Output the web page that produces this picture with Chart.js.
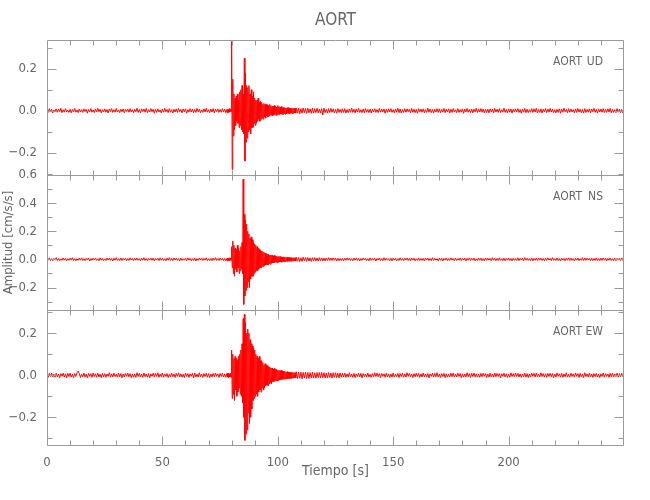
<!DOCTYPE html>
<html lang="es">
<head>
<meta charset="UTF-8">
<title>AORT</title>
<script src="https://cdn.jsdelivr.net/npm/chart.js"></script>
<style>
  body { margin: 0; background: #fff; }
  canvas { display: block; }
</style>
</head>
<body>
<canvas id="seis" width="650" height="500"></canvas>
<script>
const station = 'AORT';
const components = ['UD', 'NS', 'EW'];

// sampling: pre-event 0-77.5 s every 0.5 s, strong motion 78-107.75 s every 0.25 s, coda 108-250 s every 0.5 s
const preStart = 0, preStep = 0.5;
const burstStart = 78, burstStep = 0.25;
const postStart = 108, postStep = 0.5;

// --- UD [cm/s/s]
const udPre = [
  .006,-.008,.01,-.005,.007,-.011,.004,-.006,.009,-.007,
  .008,-.004,.012,-.009,.005,-.007,.01,-.006,.003,-.008,
  .007,-.01,.006,-.005,.011,-.007,.004,-.009,.008,-.006,
  .005,-.008,.009,-.004,.007,-.012,.006,-.005,.01,-.007,
  .004,-.009,.008,-.006,.012,-.005,.007,-.01,.005,-.006,
  .009,-.007,.006,-.011,.008,-.004,.01,-.008,.005,-.007,
  .011,-.006,.004,-.009,.007,-.005,.009,-.01,.006,-.004,
  .008,-.007,.01,-.006,.005,-.009,.007,-.005,.012,-.008,
  .006,-.011,.009,-.004,.008,-.007,.011,-.009,.005,-.006,
  .01,-.005,.007,-.012,.006,-.008,.009,-.006,.004,-.01,
  .008,-.007,.012,-.005,.006,-.009,.01,-.007,.005,-.011,
  .007,-.006,.009,-.008,.011,-.004,.006,-.01,.008,-.005,
  .009,-.012,.005,-.007,.01,-.006,.008,-.009,.006,-.008,
  .011,-.005,.007,-.01,.004,-.008,.009,-.006,.012,-.007,
  .005,-.009,.008,-.006,.01,-.011,.007,-.004,.009,-.008,
  .006,-.007,.01,-.005,.008,-.009
];
const udBurst = [
  .007,-.009,.005,-.008,.01,-.006,.008,-.005,
  .33,-.28,.15,-.12,.08,-.09,.06,-.07,
  .07,-.05,.08,-.06,.05,-.08,.09,-.07,
  .1,-.09,.12,-.1,.08,-.11,
  .25,-.24,.18,-.15,.12,-.13,
  .11,-.1,.12,-.09,.08,-.11,.1,-.08,
  .07,-.08,.09,-.06,.06,-.07,.05,-.06,
  .05,-.05,.06,-.04,.04,-.05,.045,-.04,
  .04,-.035,.03,-.04,.035,-.03,.03,-.035,
  .03,-.025,.028,-.03,.022,-.025,.03,-.02,.025,-.022,.02,-.025,
  .022,-.02,.025,-.018,.02,-.022,.018,-.02,.025,-.016,.02,-.018,
  .018,-.015,.02,-.016,.014,-.018,.016,-.014,.015,-.017,.013,-.015,
  .014,-.012,.015,-.013,.012,-.014,.013,-.011,.012,-.013,.011,-.012,.013,-.01,.012,-.011
];
const udPost = [
  .013,-.011,.012,-.014,.01,-.012,.013,-.009,.011,-.013,
  .012,-.01,.009,-.012,.013,-.011,.01,-.009,.012,-.01,
  .008,-.011,.01,-.02,.012,-.009,.007,-.011,.01,-.008,
  .011,-.007,.009,-.01,.006,-.012,.01,-.008,.007,-.009,
  .009,-.008,.01,-.011,.006,-.009,.008,-.007,.012,-.008,
  .007,-.01,.009,-.006,.011,-.008,.005,-.009,.008,-.01,
  .01,-.007,.006,-.009,.008,-.011,.007,-.005,.01,-.008,
  .006,-.009,.011,-.007,.008,-.006,.009,-.012,.007,-.008,
  .009,-.006,.01,-.008,.005,-.01,.008,-.007,.012,-.009,
  .008,-.011,.006,-.008,.01,-.007,.009,-.005,.007,-.01,
  .011,-.008,.007,-.009,.006,-.012,.01,-.006,.008,-.007,
  .009,-.01,.005,-.008,.012,-.007,.008,-.009,.006,-.011,
  .007,-.006,.01,-.008,.009,-.01,.006,-.007,.011,-.009,
  .008,-.005,.009,-.011,.007,-.008,.01,-.006,.005,-.009,
  .01,-.008,.006,-.007,.009,-.012,.008,-.006,.011,-.007,
  .006,-.009,.008,-.01,.007,-.005,.012,-.008,.009,-.006,
  .01,-.007,.008,-.011,.006,-.009,.007,-.01,.009,-.005,
  .008,-.01,.011,-.006,.007,-.008,.01,-.009,.005,-.007,
  .012,-.008,.006,-.01,.009,-.007,.008,-.011,.007,-.006,
  .009,-.005,.01,-.008,.006,-.012,.008,-.007,.011,-.009,
  .007,-.009,.005,-.007,.01,-.008,.009,-.006,.012,-.01,
  .006,-.008,.009,-.011,.007,-.005,.01,-.009,.008,-.007,
  .011,-.006,.008,-.009,.005,-.01,.007,-.008,.009,-.012,
  .008,-.007,.012,-.005,.006,-.009,.01,-.007,.008,-.006,
  .005,-.01,.009,-.008,.011,-.006,.007,-.009,.006,-.011,
  .01,-.008,.006,-.007,.009,-.01,.008,-.005,.011,-.008,
  .007,-.011,.009,-.006,.008,-.007,.01,-.009,.006,-.008,
  .009,-.006,.011,-.01,.007,-.008,.005,-.009,.01,-.007,
  .008,-.009,.006,-.01,.009
];

// --- NS
const nsPre = [
  .008,-.006,.011,-.009,.005,-.01,.007,-.004,.012,-.008,
  .006,-.009,.004,-.007,.01,-.006,.008,-.011,.005,-.007,
  .009,-.005,.012,-.008,.006,-.01,.004,-.007,.009,-.006,
  .011,-.008,.005,-.009,.007,-.005,.01,-.012,.006,-.007,
  .008,-.004,.009,-.007,.005,-.01,.011,-.006,.007,-.009,
  .004,-.008,.01,-.005,.009,-.007,.006,-.011,.008,-.006,
  .012,-.007,.005,-.008,.01,-.009,.007,-.004,.009,-.01,
  .006,-.008,.011,-.005,.007,-.009,.008,-.006,.01,-.007,
  .005,-.01,.008,-.006,.012,-.008,.006,-.009,.007,-.005,
  .009,-.007,.01,-.011,.006,-.005,.008,-.009,.011,-.006,
  .007,-.008,.005,-.01,.009,-.006,.012,-.007,.006,-.009,
  .01,-.005,.008,-.007,.006,-.011,.009,-.008,.005,-.006,
  .008,-.009,.011,-.006,.007,-.01,.005,-.008,.009,-.012,
  .006,-.007,.009,-.005,.01,-.008,.007,-.006,.011,-.009,
  .005,-.008,.007,-.01,.009,-.006,.012,-.007,.006,-.008,
  .01,-.006,.008,-.009,.007,-.01
];
const nsBurst = [
  .008,-.01,.006,-.007,.011,-.008,.009,-.006,
  .09,-.06,.13,-.1,.1,-.12,.08,-.07,
  .07,-.09,.1,-.06,.08,-.1,.06,-.08,
  .09,-.07,.12,-.1,
  .57,-.32,.32,-.26,.28,-.22,.25,-.2,
  .2,-.16,.18,-.2,.15,-.14,.16,-.12,
  .14,-.12,.12,-.1,.11,-.09,.1,-.08,
  .09,-.08,.08,-.07,.07,-.06,.065,-.06,
  .06,-.05,.055,-.05,.05,-.045,.045,-.04,
  .04,-.04,.035,-.04,.035,-.03,.03,-.035,.03,-.028,.03,-.025,
  .025,-.025,.028,-.022,.025,-.02,.022,-.025,.02,-.02,.022,-.018,
  .02,-.018,.018,-.02,.016,-.017,.018,-.015,.016,-.016,.015,-.014,
  .015,-.014,.014,-.013,.013,-.014,.012,-.013,.013,-.012,.012,-.011,.012,-.011,.011,-.012
];
const nsPost = [
  .015,-.013,.014,-.016,.012,-.014,.015,-.011,.013,-.014,
  .013,-.012,.011,-.014,.012,-.01,.013,-.011,.01,-.012,
  .012,-.01,.011,-.012,.009,-.011,.01,-.008,.012,-.009,
  .01,-.008,.011,-.007,.009,-.012,.008,-.01,.007,-.009,
  .006,-.01,.008,-.007,.011,-.006,.009,-.008,.005,-.01,
  .009,-.006,.01,-.008,.007,-.011,.006,-.007,.01,-.005,
  .008,-.009,.005,-.01,.011,-.007,.008,-.006,.009,-.012,
  .007,-.005,.01,-.008,.006,-.009,.012,-.007,.008,-.006,
  .005,-.009,.008,-.011,.009,-.006,.007,-.01,.006,-.008,
  .011,-.007,.006,-.009,.008,-.005,.01,-.008,.007,-.011,
  .009,-.006,.008,-.01,.005,-.007,.011,-.009,.006,-.008,
  .007,-.011,.009,-.005,.01,-.008,.006,-.009,.012,-.007,
  .008,-.006,.005,-.01,.009,-.007,.008,-.012,.007,-.005,
  .01,-.009,.006,-.008,.011,-.006,.007,-.01,.009,-.008,
  .006,-.007,.01,-.009,.008,-.005,.009,-.011,.007,-.006,
  .011,-.008,.007,-.006,.009,-.01,.005,-.008,.01,-.007,
  .008,-.009,.006,-.011,.01,-.007,.009,-.005,.007,-.01,
  .012,-.006,.008,-.009,.006,-.008,.011,-.007,.005,-.009,
  .009,-.01,.007,-.006,.01,-.008,.006,-.011,.008,-.007,
  .006,-.008,.011,-.009,.007,-.005,.009,-.01,.012,-.006,
  .008,-.007,.005,-.009,.01,-.011,.007,-.006,.009,-.008,
  .01,-.006,.009,-.008,.006,-.01,.008,-.007,.011,-.005,
  .007,-.009,.012,-.007,.005,-.008,.01,-.009,.006,-.011,
  .009,-.005,.007,-.01,.008,-.006,.011,-.008,.009,-.007,
  .006,-.011,.008,-.006,.01,-.009,.005,-.007,.012,-.008,
  .01,-.007,.009,-.005,.007,-.01,.008,-.009,.006,-.008,
  .011,-.008,.006,-.009,.009,-.007,.01,-.006,.008,-.011,
  .007,-.006,.01,-.008,.005,-.009,.009,-.01,.007,-.006,
  .009,-.008,.011,-.007,.006
];

// --- EW
const ewPre = [
  .007,-.01,.009,-.006,.011,-.008,.005,-.009,.01,-.007,
  .006,-.011,.008,-.005,.01,-.009,.007,-.012,.009,-.006,
  .01,-.008,.005,-.011,.008,-.006,.012,.02,.007,-.01,
  .005,-.007,.01,-.009,.006,-.012,.009,-.005,.008,-.01,
  .011,-.006,.007,-.009,.01,-.008,.005,-.011,.009,-.007,
  .008,-.01,.006,-.005,.012,-.009,.007,-.008,.01,-.006,
  .005,-.009,.011,-.007,.008,-.012,.006,-.008,.009,-.005,
  .01,-.007,.008,-.011,.006,-.009,.007,-.01,.012,-.006,
  .009,-.008,.005,-.01,.011,-.007,.006,-.009,.008,-.012,
  .007,-.005,.01,-.008,.009,-.006,.012,-.01,.006,-.007,
  .011,-.009,.007,-.006,.008,-.011,.005,-.008,.01,-.007,
  .006,-.01,.009,-.005,.012,-.008,.007,-.009,.005,-.011,
  .01,-.006,.008,-.01,.007,-.005,.009,-.012,.011,-.008,
  .005,-.009,.012,-.007,.006,-.01,.008,-.006,.01,-.009,
  .008,-.011,.006,-.008,.009,-.007,.011,-.005,.007,-.01,
  .009,-.006,.01,-.008,.007,-.009
];
const ewBurst = [
  .009,-.007,.011,-.01,.006,-.008,.01,-.009,
  .12,-.11,.1,-.09,.08,-.12,.09,-.07,
  .08,-.1,.07,-.08,.09,-.06,.1,-.09,
  .12,-.1,.15,-.13,
  .27,-.2,.29,-.31,.25,-.28,.2,-.26,
  .22,-.18,.2,-.23,.17,-.2,.15,-.16,
  .14,-.12,.13,-.11,.12,-.1,.1,-.09,
  .09,-.1,.08,-.08,.09,-.07,.07,-.08,
  .07,-.06,.06,-.07,.05,-.06,.055,-.05,
  .05,-.045,.045,-.05,.04,-.04,.04,-.035,.035,-.04,.035,-.03,
  .03,-.03,.032,-.028,.03,-.025,.028,-.027,.025,-.025,.024,-.022,
  .022,-.02,.024,-.02,.02,-.019,.02,-.018,.019,-.018,.017,-.018,
  .017,-.016,.016,-.015,.015,-.016,.014,-.015,.014,-.013,.014,-.013,.013,-.012,.012,-.013
];
const ewPost = [
  .017,-.015,.016,-.014,.015,-.017,.014,-.013,.015,-.016,
  .014,-.015,.013,-.012,.015,-.013,.012,-.014,.013,-.011,
  .013,-.012,.014,-.011,.012,-.013,.011,-.012,.013,-.01,
  .011,-.013,.012,-.01,.012,-.011,.01,-.012,.011,-.009,
  .01,-.008,.011,-.01,.007,-.009,.012,-.008,.006,-.01,
  .009,-.011,.007,-.006,.01,-.008,.009,-.012,.008,-.007,
  .006,-.009,.011,-.008,.005,-.01,.008,-.007,.012,-.006,
  .01,-.007,.008,-.011,.009,-.005,.007,-.009,.01,-.008,
  .007,-.01,.006,-.008,.011,-.009,.005,-.007,.009,-.011,
  .008,-.006,.01,-.009,.007,-.008,.012,-.006,.009,-.007,
  .005,-.011,.008,-.007,.01,-.006,.009,-.01,.007,-.008,
  .011,-.008,.006,-.009,.008,-.012,.007,-.005,.01,-.009,
  .009,-.007,.012,-.008,.006,-.01,.008,-.006,.009,-.011,
  .007,-.009,.005,-.008,.01,-.007,.011,-.009,.006,-.008,
  .01,-.006,.008,-.011,.007,-.009,.006,-.008,.012,-.007,
  .008,-.01,.009,-.006,.011,-.008,.007,-.009,.005,-.01,
  .009,-.007,.01,-.005,.008,-.011,.006,-.009,.01,-.008,
  .006,-.009,.011,-.007,.009,-.006,.008,-.012,.007,-.005,
  .01,-.008,.007,-.01,.005,-.009,.012,-.006,.008,-.007,
  .011,-.006,.009,-.008,.007,-.01,.006,-.007,.01,-.009,
  .008,-.011,.006,-.009,.01,-.005,.009,-.008,.011,-.007,
  .005,-.008,.012,-.006,.008,-.009,.007,-.01,.009,-.006,
  .01,-.007,.008,-.011,.006,-.008,.011,-.005,.007,-.009,
  .009,-.01,.006,-.007,.012,-.008,.005,-.009,.01,-.006,
  .007,-.009,.011,-.005,.008,-.01,.009,-.007,.006,-.011,
  .012,-.006,.007,-.009,.01,-.008,.006,-.01,.008,-.007,
  .009,-.008,.005,-.011,.007,-.006,.011,-.009,.008,-.005,
  .006,-.01,.009,-.007,.011,-.008,.007,-.006,.01,-.009,
  .008,-.007,.01,-.006,.009
];

// axes
const xRange = [0, 250];
const xTicks = [0, 50, 100, 150, 200];
const udRange = [-0.306, 0.337];
const nsRange = [-0.36, 0.6];
const ewRange = [-0.332, 0.311];
const udTicks = [-0.2, 0, 0.2];
const nsTicks = [-0.2, 0, 0.2, 0.4, 0.6];
const ewTicks = [-0.2, 0, 0.2];

const FONT = "'DejaVu Sans Condensed', 'Liberation Sans Narrow', 'Liberation Sans', sans-serif";
const TEXT = '#666';
const LINE = '#9a9a9a';

function trace(pre, burst, post) {
  const pts = [];
  pre.forEach((v, i) => pts.push({ x: preStart + i * preStep, y: v }));
  burst.forEach((v, i) => pts.push({ x: burstStart + i * burstStep, y: v }));
  post.forEach((v, i) => pts.push({ x: postStart + i * postStep, y: v }));
  return pts;
}

const panels = [
  { id: 'ud', comp: components[0], range: udRange, ticks: udTicks, data: trace(udPre, udBurst, udPost) },
  { id: 'ns', comp: components[1], range: nsRange, ticks: nsTicks, data: trace(nsPre, nsBurst, nsPost) },
  { id: 'ew', comp: components[2], range: ewRange, ticks: ewTicks, data: trace(ewPre, ewBurst, ewPost) }
];

function yScale(p, withTitle) {
  return {
    type: 'linear',
    position: 'left',
    stack: 'traces',
    stackWeight: 1,
    min: p.range[0],
    max: p.range[1],
    grid: { display: false },
    border: { display: false },
    afterBuildTicks: s => { s.ticks = p.ticks.map(v => ({ value: v })); },
    afterFit: s => { s.width = 47; },
    ticks: {
      padding: 2,
      autoSkip: false,
      color: TEXT,
      font: { family: FONT, size: 13 },
      callback: v => v.toFixed(1).replace('-', '\u2212')
    },
    title: {
      display: withTitle,
      text: 'Amplitud [cm/s/s]',
      color: TEXT,
      font: { family: FONT, size: 13 },
      padding: { top: 1, bottom: 0 }
    }
  };
}

// box round each panel with inward ticks, plus title and station labels
const framePlugin = {
  id: 'frame',
  afterDraw(chart) {
    const ctx = chart.ctx;
    const a = chart.chartArea;
    const xs = chart.scales.x;
    const L = Math.round(a.left) + 0.5, R = Math.round(a.right) - 0.5;
    ctx.save();
    ctx.strokeStyle = LINE;
    ctx.lineWidth = 1;
    panels.forEach(p => {
      const ys = chart.scales[p.id];
      const T = Math.round(ys.top) + 0.5, B = Math.round(ys.bottom) + 0.5;
      ctx.beginPath();
      ctx.rect(L, T, R - L, B - T);
      for (let v = xRange[0] + 10; v < xRange[1]; v += 10) {
        const px = Math.round(xs.getPixelForValue(v)) + 0.5;
        const len = v % 50 === 0 ? 9 : 5;
        ctx.moveTo(px, T); ctx.lineTo(px, T + len);
        ctx.moveTo(px, B); ctx.lineTo(px, B - len);
      }
      for (let k = Math.ceil(p.range[0] * 10); k <= Math.floor(p.range[1] * 10); k++) {
        const py = Math.round(ys.getPixelForValue(k / 10)) + 0.5;
        const len = k % 2 === 0 ? 9 : 5;
        ctx.moveTo(L, py); ctx.lineTo(L + len, py);
        ctx.moveTo(R, py); ctx.lineTo(R - len, py);
      }
      ctx.stroke();

      ctx.fillStyle = TEXT;
      ctx.font = '12px ' + FONT;
      ctx.textBaseline = 'middle';
      ctx.textAlign = 'right';
      ctx.fillText(station, 582, ys.top + 22);
      ctx.fillText(p.comp, 603, ys.top + 22);
    });
    ctx.font = '17px ' + FONT;
    ctx.textAlign = 'center';
    ctx.fillText(station, (a.left + a.right) / 2, 21);
    ctx.restore();
  }
};

new Chart(document.getElementById('seis'), {
  type: 'line',
  data: {
    datasets: panels.map(p => ({
      label: station + ' ' + p.comp,
      data: p.data,
      yAxisID: p.id,
      borderColor: '#ff0000',
      borderWidth: 1,
      pointRadius: 0,
      tension: 0
    }))
  },
  options: {
    responsive: false,
    animation: false,
    events: [],
    layout: { padding: { top: 40, right: 26, left: 0, bottom: 0 } },
    plugins: { legend: { display: false }, tooltip: { enabled: false } },
    scales: {
      x: {
        type: 'linear',
        min: xRange[0],
        max: xRange[1],
        grid: { display: false },
        border: { display: false },
        afterBuildTicks: s => { s.ticks = xTicks.map(v => ({ value: v })); },
        afterFit: s => { s.height = 55; },
        ticks: {
          padding: 2,
          maxRotation: 0,
          autoSkip: false,
          color: TEXT,
          font: { family: FONT, size: 13 },
          callback: v => String(v)
        },
        title: {
          display: true,
          text: 'Tiempo [s]',
          color: TEXT,
          font: { family: FONT, size: 14 },
          padding: { top: 0, bottom: 20 }
        }
      },
      // declared bottom-up: the layout stacks left boxes in reverse order
      ew: yScale(panels[2], false),
      ns: yScale(panels[1], true),
      ud: yScale(panels[0], false)
    }
  },
  plugins: [framePlugin]
});
</script>
</body>
</html>
